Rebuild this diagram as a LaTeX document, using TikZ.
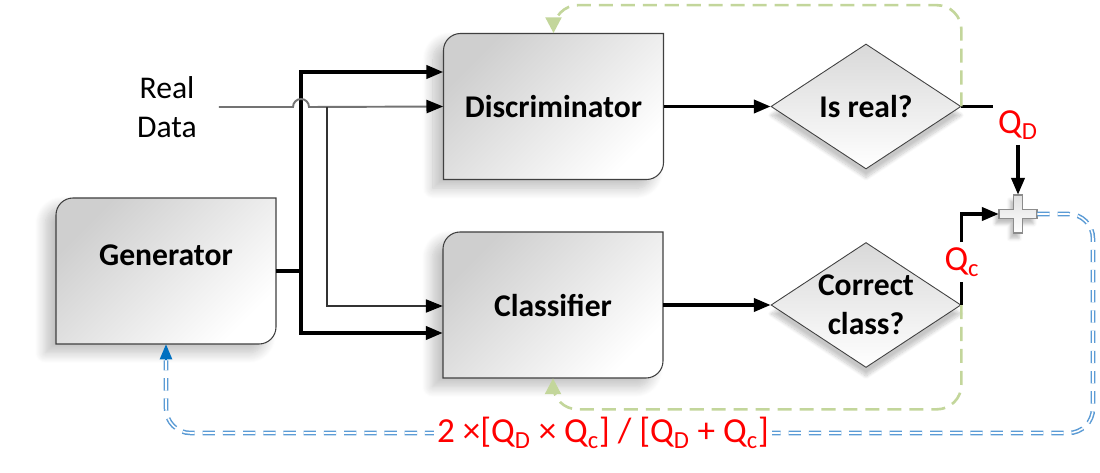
\documentclass[tikz,border=0pt]{standalone}
\usepackage{fontspec}
\setmainfont{Carlito}
\usetikzlibrary{positioning, calc, shapes.geometric, arrows.meta, shadows.blur}

\definecolor{feedgreen}{RGB}{195,214,155}
\definecolor{lossblue}{RGB}{91,155,213}
\definecolor{tipblue}{RGB}{0,112,192}

\tikzstyle{Arrow} = [-{Triangle[length=9.5pt, width=7.5pt, color=black]}]
\tikzstyle{Thick} = [line width=1.8pt]

\newcommand{\procface}[1]{%
  \path[boxface, shift={(#1)}] (-110,-73) -- (93,-73)
    arc[start angle=270, end angle=360, radius=17] -- (110,73) -- (-93,73)
    arc[start angle=90, end angle=180, radius=17] -- cycle;}

\begin{document}
\begin{tikzpicture}[
x=0.02cm, y=0.02cm,
procbox/.style={
    minimum width=4.4cm,
    minimum height=2.92cm,
    inner sep=0pt,
    font=\fontsize{18}{22}\selectfont\bfseries
    },
boxface/.style={
    draw=black!75, line width=0.6pt,
    top color=black!19, bottom color=white, shading angle=45,
    blur shadow={shadow xshift=-6pt, shadow yshift=-5pt, shadow blur steps=12, shadow blur radius=6pt, shadow opacity=25}
    },
decision/.style={
    diamond, aspect=1.53, inner sep=0pt,
    minimum width=3.8cm, minimum height=2.5cm,
    draw=black!75, line width=0.5pt, align=center,
    top color=black!15, bottom color=white,
    blur shadow={shadow xshift=0pt, shadow yshift=-5pt, shadow blur steps=10, shadow opacity=22},
    font=\fontsize{18}{22}\selectfont\bfseries
    },
qlabel/.style={text=red, inner sep=3pt, font=\fontsize{20}{24}\selectfont},
feedback/.style={feedgreen, line width=1.5pt, dash pattern=on 8pt off 4.5pt, rounded corners=14pt},
feedtip/.style={feedgreen, line width=1.5pt, -{Triangle[length=9pt, width=9pt]}},
lossline/.style={draw=lossblue, double=white, double distance=0.9pt, line width=0.85pt,
    dash pattern=on 7pt off 4.5pt, rounded corners=14pt},
losstip/.style={tipblue, line width=0.8pt, -{Triangle[length=8.5pt, width=7pt]}}
]
\useasboundingbox (0,0) rectangle (1100,-473);

\procface{166,-271}
\procface{553.5,-106.5}
\procface{553,-305}

\node[procbox, label={[font=\fontsize{18}{22}\selectfont\bfseries, yshift=9pt]center:Generator}] (gen) at (166,-271) {};
\node[procbox] (disc) at (553.5,-106.5) {Discriminator};
\node[procbox] (cls) at (553,-305) {Classifier};

\node[decision] (isreal) at (866,-106.5) {Is real?};
\node[decision] (correct) at (866,-305) {Correct\\class?};

\node[align=center, font=\fontsize{18}{22}\selectfont] (real) at (167,-107) {Real\\Data};

\node[circle, minimum size=0.76cm, inner sep=0pt] (sum) at (1018,-214) {};
\draw[black!45, line width=0.6pt, top color=black!12, bottom color=white,
    blur shadow={shadow xshift=-2pt, shadow yshift=-3pt, shadow opacity=25}, shift={(sum)}]
    (-4.5,19) -- (4.5,19) -- (4.5,4.5) -- (19,4.5) -- (19,-4.5) -- (4.5,-4.5) -- (4.5,-19)
    -- (-4.5,-19) -- (-4.5,-4.5) -- (-19,-4.5) -- (-19,4.5) -- (-4.5,4.5) -- cycle;

\node[qlabel] (qd) at (1018,-125) {Q\textsubscript{D}};
\node[qlabel] (qc) at (962,-262) {Q\textsubscript{c}};

\coordinate (split) at (301,-271);
\draw[Thick] (gen.east) -- (split);
\draw[Thick, Arrow] (split) |- (disc.west |- 0,-72);
\draw[Thick, Arrow] (split) |- (cls.west |- 0,-333);

\draw[black!55, line width=1.1pt, Arrow, shorten <=9pt] (real.east) -- (293,-107)
    arc[start angle=180, end angle=0, radius=8] -- (disc.west);
\coordinate (fork) at (327,-107);
\draw[black!80, line width=0.6pt, Arrow] (fork) |- (cls.west |- 0,-306);

\draw[Thick, Arrow] (disc.east) -- (isreal.west);
\draw[Thick, Arrow] (cls.east) -- (correct.west);

\draw[Thick] (isreal.east) -- (isreal.east -| qd.west);
\draw[Thick, Arrow] (qd.south -| sum.north) -- (sum.north);
\draw[Thick] (correct.east) -- (qc.south -| correct.east);
\draw[Thick, Arrow] (qc.north -| correct.east) |- (sum.west);

\coordinate (dtop) at ($(disc.north)+(0,12)$);
\coordinate (cbot) at ($(cls.south)+(0,-14)$);
\draw[feedback] (isreal.east) |- ($(disc.north)+(0,28)$) -- (dtop);
\draw[feedtip] (dtop) -- (disc.north);
\draw[feedback] (correct.east) |- ($(cls.south)+(0,-31)$) -- (cbot);
\draw[feedtip] (cbot) -- (cls.south);

\coordinate (loop) at (1093,-433);
\coordinate (gbot) at ($(gen.south)+(0,-16)$);
\draw[lossline] (sum.east) -| (loop) -| (gbot);
\draw[losstip] (gbot) -- (gen.south);
\node[fill=white, inner sep=2pt, text=red, font=\fontsize{20}{24}\selectfont] (loss) at (603,-433)
    {2 ×[Q\textsubscript{D} × Q\textsubscript{c}] / [Q\textsubscript{D} + Q\textsubscript{c}]};

\end{tikzpicture}
\end{document}
